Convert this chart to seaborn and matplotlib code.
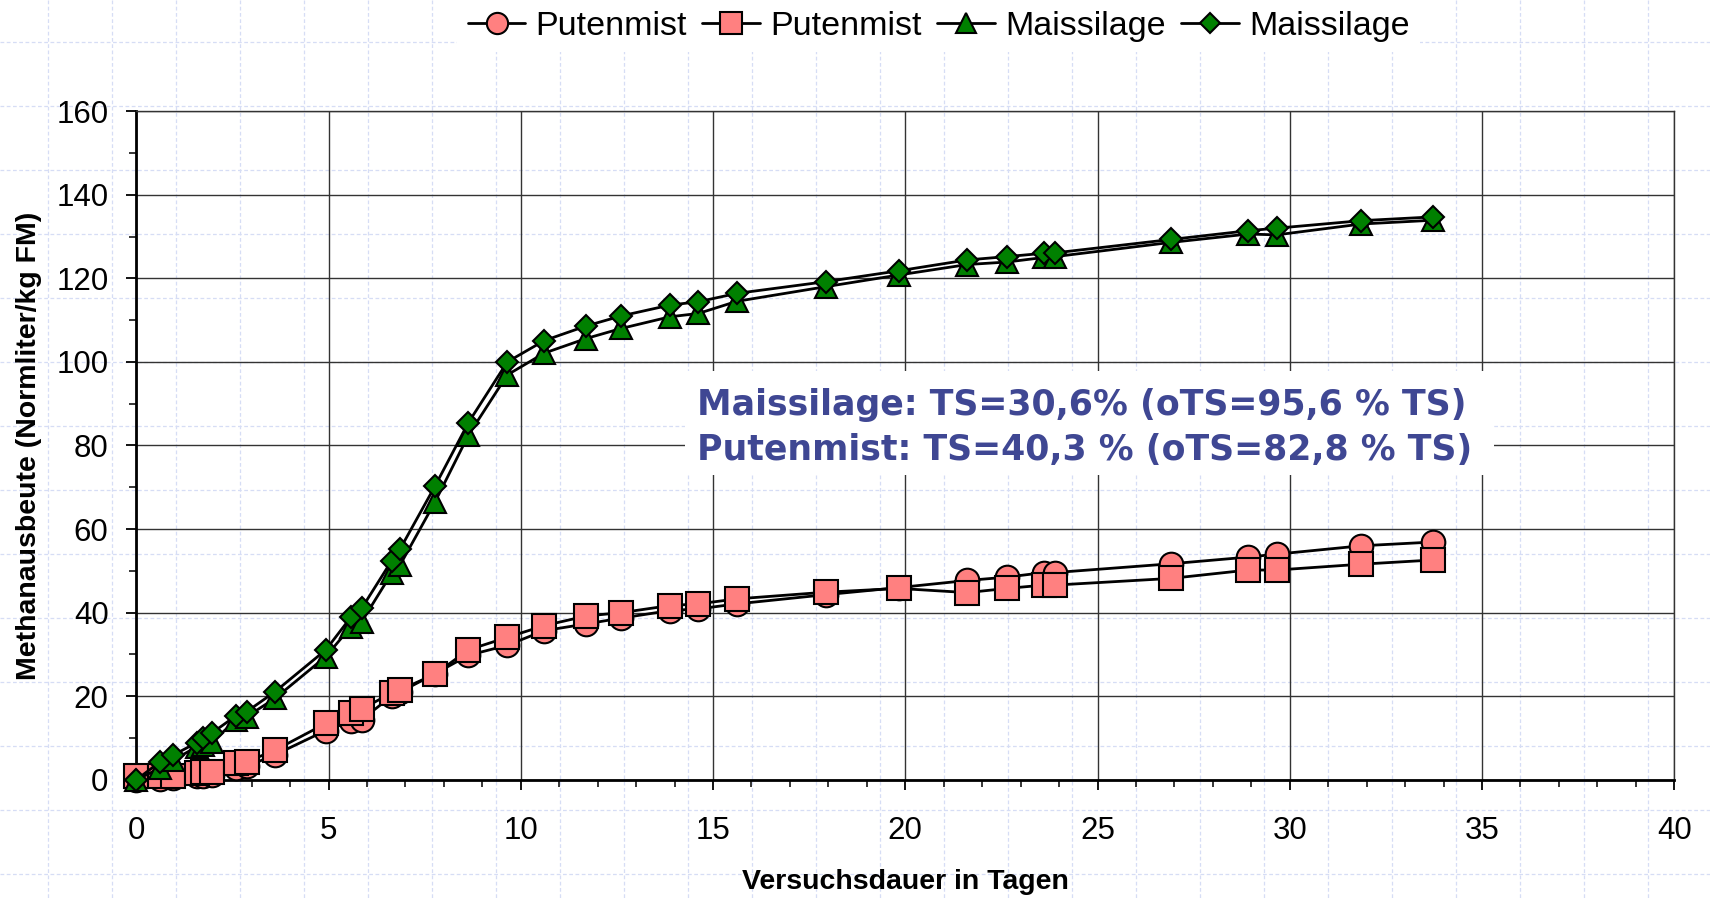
import matplotlib
matplotlib.use("Agg")
import matplotlib.pyplot as plt
import numpy as np
import seaborn as sns
from matplotlib.patches import Rectangle
from matplotlib.ticker import MultipleLocator

# Versuchstage (gemeinsame x-Werte aller Reihen)
days = [0, 0.62, 0.96, 1.57, 1.74, 1.98, 2.59, 2.87, 3.61, 4.93, 5.58, 5.86,
        6.64, 6.86, 7.77, 8.64, 9.65, 10.61, 11.70, 12.61, 13.88, 14.62, 15.62,
        17.93, 19.83, 21.61, 22.64, 23.61, 23.90, 26.91, 28.92, 29.66, 31.86, 33.72]

putenmist_a = [0, 0.2, 0.4, 0.8, 1.0, 1.2, 2.8, 3.2, 6.0, 11.8, 14.0, 14.4,
               20.0, 21.0, 25.4, 29.8, 32.2, 35.7, 37.3, 38.7, 40.5, 40.9, 42.1,
               44.3, 46.0, 47.7, 48.5, 49.6, 49.6, 51.7, 53.3, 54.0, 56.0, 56.9]
putenmist_b = [0.8, 1.0, 1.0, 1.6, 1.8, 1.8, 4.1, 4.3, 7.1, 13.5, 15.9, 16.9,
               20.8, 21.5, 25.3, 31.1, 34.1, 36.9, 39.2, 40.0, 41.7, 42.1, 43.3,
               44.9, 45.8, 44.8, 45.8, 46.6, 46.6, 48.2, 50.2, 50.2, 51.6, 52.6]
maissilage_a = [0, 2.8, 4.7, 7.9, 8.3, 9.1, 14.3, 15.1, 19.5, 29.5, 36.6, 37.8,
                49.4, 51.4, 66.5, 82.5, 96.9, 102.1, 105.6, 108.0, 110.8, 111.6, 114.5,
                118.0, 120.8, 123.3, 123.9, 125.0, 125.2, 128.6, 130.6, 130.4, 133.0, 133.9]
maissilage_b = [0, 4.3, 5.9, 8.9, 9.9, 11.3, 15.3, 16.3, 21.1, 31.1, 38.9, 41.0,
                52.4, 55.2, 70.3, 85.5, 100.0, 105.1, 108.6, 111.0, 113.6, 114.4, 116.4,
                119.2, 121.8, 124.4, 125.2, 126.0, 126.1, 129.3, 131.4, 132.0, 133.8, 134.7]

series_labels = ["Putenmist", "Putenmist", "Maissilage", "Maissilage"]
x_ticks = [0, 5, 10, 15, 20, 25, 30, 35, 40]
y_ticks = [0, 20, 40, 60, 80, 100, 120, 140, 160]
x_label = "Versuchsdauer in Tagen"
y_label = "Methanausbeute (Normliter/kg FM)"
note_lines = ["Maissilage: TS=30,6% (oTS=95,6 % TS)",
              "Putenmist: TS=40,3 % (oTS=82,8 % TS)"]

sns.set_theme(style="white")
plt.rcParams["font.family"] = ["Liberation Sans", "DejaVu Sans"]
plt.rcParams["text.color"] = "black"
plt.rcParams["axes.labelcolor"] = "black"

fig = plt.figure(figsize=(17.1, 8.98), dpi=100)

# Karopapier im Hintergrund
bg = fig.add_axes([0, 0, 1, 1], zorder=-1)
bg.set_xlim(0, 1710)
bg.set_ylim(898, 0)
bg.axis("off")
paper = dict(color="#d6ddf5", lw=0.9, linestyles=(0, (3, 2)))
bg.vlines(np.arange(47.7, 1710, 64), 0, 898, **paper)
bg.hlines(np.arange(42, 898, 64), 0, 1710, **paper)

ax = fig.add_axes([0.0797, 0.1316, 0.8994, 0.7446])
ax.patch.set_alpha(0)

styles = [("o", "#ff8080", 17), ("s", "#ff8080", 17),
          ("^", "#008000", 16), ("D", "#008000", 11.5)]
for vals, label, (marker, fill, ms) in zip(
        [putenmist_a, putenmist_b, maissilage_a, maissilage_b], series_labels, styles):
    sns.lineplot(x=days, y=vals, ax=ax, sort=False, estimator=None, legend=False,
                 color="black", lw=2.0, marker=marker, markersize=ms,
                 markerfacecolor=fill, markeredgecolor="black", markeredgewidth=1.5,
                 label=label, clip_on=False, zorder=3)

ax.set_xlim(0, 40)
ax.set_ylim(0, 160)
ax.set_xticks(x_ticks)
ax.set_yticks(y_ticks)
ax.xaxis.set_minor_locator(MultipleLocator(1))
ax.yaxis.set_minor_locator(MultipleLocator(10))
ax.tick_params(which="both", bottom=True, left=True, direction="out", color="black")
ax.tick_params(which="major", length=7, width=1.3, labelsize=22.5,
               labelcolor="black")
ax.tick_params(which="minor", length=5, width=1.1)
ax.tick_params(axis="x", which="major", pad=19)
ax.tick_params(axis="y", which="major", pad=13)
ax.grid(True, which="major", color="#333333", lw=1.0)
ax.set_axisbelow(True)
for side in ["left", "bottom"]:
    ax.spines[side].set_linewidth(2)
    ax.spines[side].set_color("black")
for side in ["top", "right"]:
    ax.spines[side].set_linewidth(1)
    ax.spines[side].set_color("#333333")

ax.set_xlabel(x_label, fontsize=20.5, fontweight="bold", va="top")
ax.xaxis.set_label_coords(0.5, -0.133)
ax.set_ylabel(y_label, fontsize=20.5, fontweight="bold")
ax.yaxis.set_label_coords(-0.0613, 0.5)

ax.add_patch(Rectangle((14.27, 73), 21.05, 24.9, facecolor="white",
                       edgecolor="none", zorder=1))
for yy, line in zip([87.3, 76.5], note_lines):
    ax.text(14.59, yy, line, fontsize=25, fontweight="bold", color="#3f4793",
            family="DejaVu Sans", va="baseline", ha="left", zorder=4)

handles, labels = ax.get_legend_handles_labels()
fig.legend(handles, labels, loc="center", bbox_to_anchor=(0.549, 0.971), ncol=4,
           fontsize=24.5, frameon=True, facecolor="white", edgecolor="none",
           framealpha=1, fancybox=False, handlelength=1.7, handletextpad=0.3,
           columnspacing=0.45, markerscale=0.9, borderpad=0.3)

fig.savefig("out.png", dpi=100)
